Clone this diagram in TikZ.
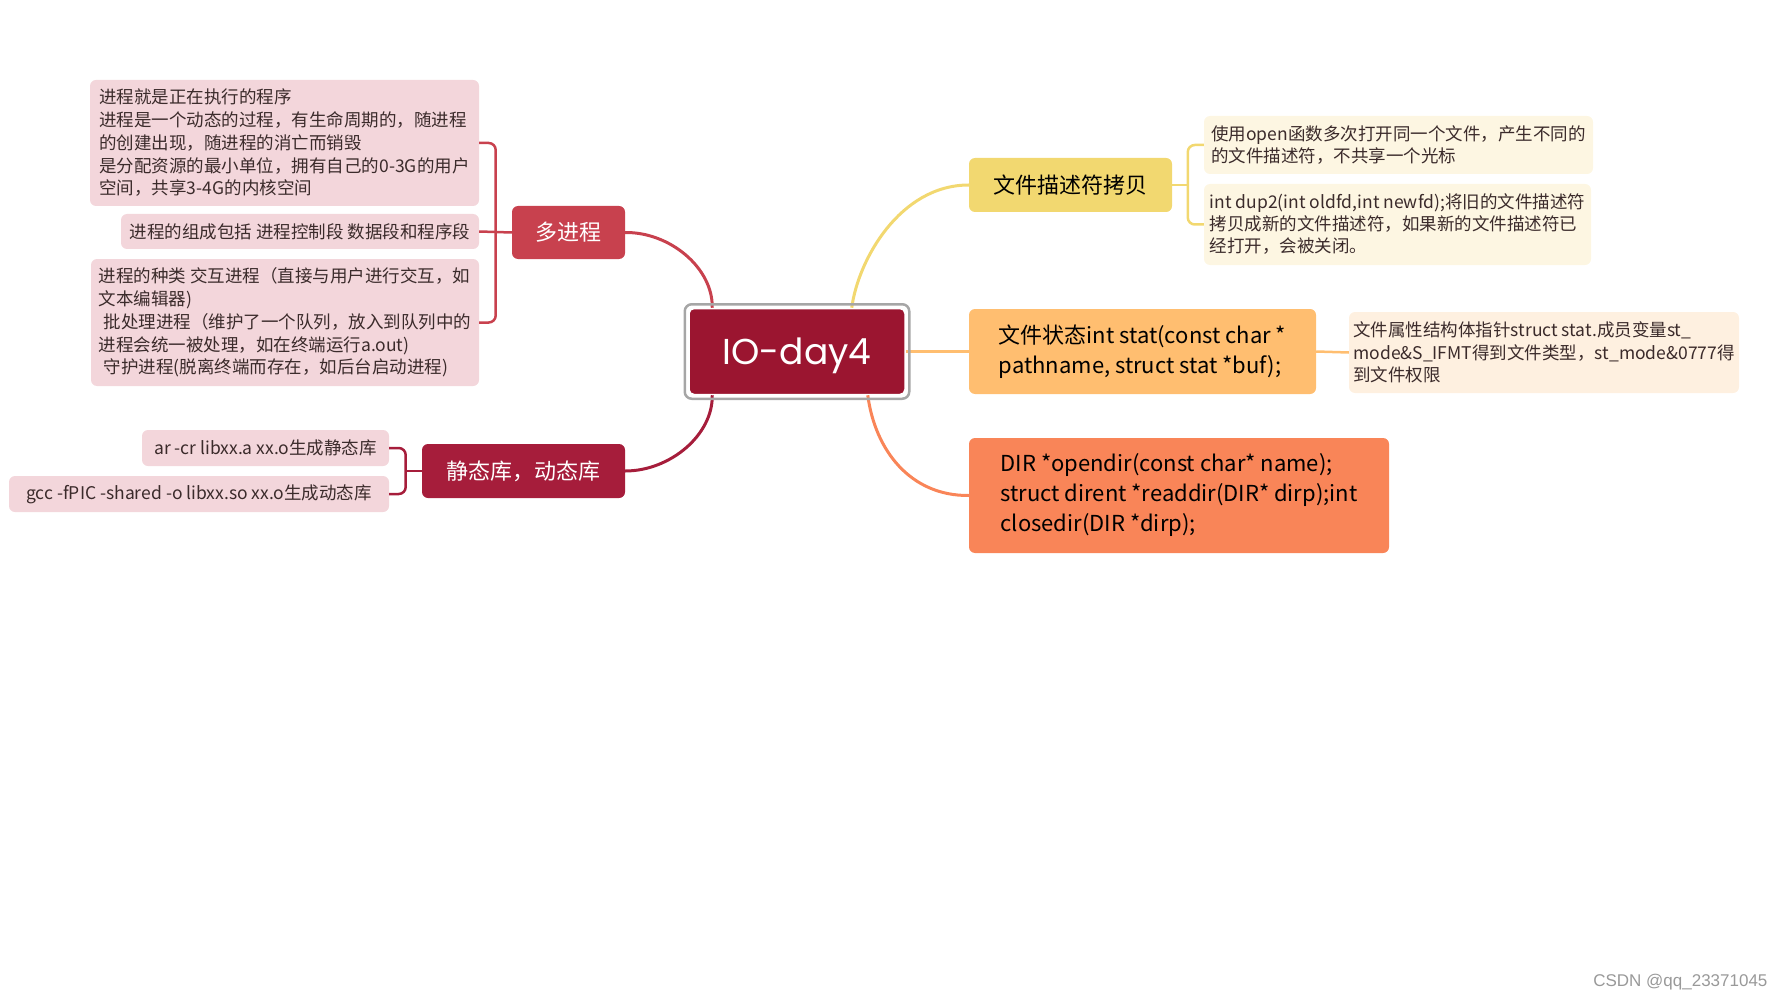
\documentclass[tikz,border=0pt]{standalone}
\usepackage{fontspec}
\setmainfont{Noto Sans CJK SC}
\newfontfamily\hubfont{Poppins}
\newfontfamily\markfont{Liberation Sans}
\usepackage{tikz}
\usetikzlibrary{shapes, arrows, positioning}
\usepackage{xcolor}
\definecolor{hubred}{HTML}{9B1530}
\definecolor{multired}{HTML}{C8414E}
\definecolor{libred}{HTML}{A61D3B}
\definecolor{pinknote}{HTML}{F3D6DB}
\definecolor{fdyellow}{HTML}{F2D870}
\definecolor{cream}{HTML}{FDF6E2}
\definecolor{statorange}{HTML}{FFBE70}
\definecolor{peach}{HTML}{FEF0E0}
\definecolor{dirsalmon}{HTML}{F98558}
\definecolor{notetext}{HTML}{3B2B2B}

\begin{document}
\begin{tikzpicture}[x=1pt, y=-1pt,
    topic/.style={rectangle, rounded corners=6pt, align=left, font=\fontsize{22}{30}\selectfont},
    note/.style={rectangle, rounded corners=6pt, align=left, text=notetext, font=\fontsize{17.5}{22.75}\selectfont},
    branch/.style={line width=3pt},
    fork/.style={line width=2.5pt, rounded corners=7pt}]
    \useasboundingbox (0,0) rectangle (1784,1000);

    \node (hub) [rectangle, rounded corners=5pt, fill=hubred, draw=white, line width=1.5pt, minimum width=216pt, minimum height=86pt, text depth=0pt, text=white, font=\hubfont\fontsize{36}{40}\selectfont] at (797,351.5) {IO-day4};

    \node (multi) [topic, fill=multired, text=white, minimum width=113pt, minimum height=53pt] at (568.5,232.5) {多进程};
    \node (lib) [topic, fill=libred, text=white, minimum width=203pt, minimum height=54pt] at (523.5,471) {静态库，动态库};
    \node (fd) [topic, fill=fdyellow, minimum width=203pt, minimum height=54pt] at (1070.5,185) {文件描述符拷贝};
    \node (stat) [topic, fill=statorange, minimum width=347pt, minimum height=85pt] at (1142.5,351.5) {文件状态int stat(const char *\\pathname, struct stat *buf);};
    \node (dir) [topic, fill=dirsalmon, minimum width=420pt, minimum height=115pt] at (1179,495.5) {DIR *opendir(const char* name);\\struct dirent *readdir(DIR* dirp);int\\closedir(DIR *dirp);};

    \node (proc1) [note, fill=pinknote, minimum width=389pt, minimum height=126pt] at (284.5,143) {进程就是正在执行的程序\\进程是一个动态的过程，有生命周期的，随进程\\的创建出现，随进程的消亡而销毁\\是分配资源的最小单位，拥有自己的0-3G的用户\\空间，共享3-4G的内核空间};
    \node (proc2) [note, fill=pinknote, minimum width=358pt, minimum height=35pt] at (300,231.5) {进程的组成包括 进程控制段 数据段和程序段};
    \node (proc3) [note, fill=pinknote, minimum width=388pt, minimum height=127pt] at (285,322.5) {进程的种类 交互进程（直接与用户进行交互，如\\文本编辑器)\\\hspace*{5pt}批处理进程（维护了一个队列，放入到队列中的\\进程会统一被处理，如在终端运行a.out)\\\hspace*{5pt}守护进程(脱离终端而存在，如后台启动进程)};
    \node (ar) [note, fill=pinknote, minimum width=247pt, minimum height=36pt] at (265.5,448) {ar -cr libxx.a xx.o生成静态库};
    \node (gcc) [note, fill=pinknote, minimum width=380pt, minimum height=36pt] at (199,494) {gcc -fPIC -shared -o libxx.so xx.o生成动态库};

    \node (fdnote1) [note, fill=cream, minimum width=389pt, minimum height=58pt, font=\fontsize{17.5}{22}\selectfont] at (1398.5,145) {使用open函数多次打开同一个文件，产生不同的\\的文件描述符，不共享一个光标};
    \node (fdnote2) [note, fill=cream, minimum width=387pt, minimum height=81pt, font=\fontsize{17.5}{22}\selectfont] at (1397.5,224.5) {int dup2(int oldfd,int newfd);将旧的文件描述符\\拷贝成新的文件描述符，如果新的文件描述符已\\经打开，会被关闭。};
    \node (statnote) [note, fill=peach, minimum width=390pt, minimum height=81pt] at (1544,352.5) {文件属性结构体指针struct stat.成员变量st\_\\mode\&S\_IFMT得到文件类型，st\_mode\&0777得\\到文件权限};

    \node (mark) [anchor=east, text=gray!80, font=\markfont\fontsize{17}{20}\selectfont] at (1771,982) {CSDN @qq\_23371045};

    \draw [branch, multired] (multi.east) .. controls (670,232) and (713,268) .. ([xshift=24pt]hub.north west);
    \draw [branch, libred] (lib.east) .. controls (670,471) and (713,435) .. ([xshift=24pt]hub.south west);
    \draw [branch, fdyellow] ([xshift=-54pt]hub.north east) .. controls (858,260) and (900,185) .. (fd.west);
    \draw [branch, statorange] (hub.east) -- (stat.west);
    \draw [branch, dirsalmon] ([xshift=-38pt]hub.south east) .. controls (875,450) and (910,496) .. (dir.west);

    \draw [fork, multired] (proc1.east) -- ++(16.5,0) |- (proc3.east);
    \draw [fork, multired] (proc2.east) -- (multi.west);
    \draw [fork, libred] (ar.east) -- ++(16.5,0) |- (gcc.east);
    \draw [fork, libred] (lib.west) -- ([xshift=-16.5pt]lib.west);
    \draw [fork, fdyellow] (fdnote1.west) -- ++(-16,0) |- (fdnote2.west);
    \draw [fork, fdyellow] (fd.east) -- ([xshift=16pt]fd.east);
    \draw [fork, statorange] (stat.east) -- (statnote.west);

    \draw [gray!70, line width=2.5pt, rounded corners=7pt] ([shift={(-3.5pt,3.5pt)}]hub.north west) rectangle ([shift={(3.5pt,-3.5pt)}]hub.south east);
\end{tikzpicture}
\end{document}
